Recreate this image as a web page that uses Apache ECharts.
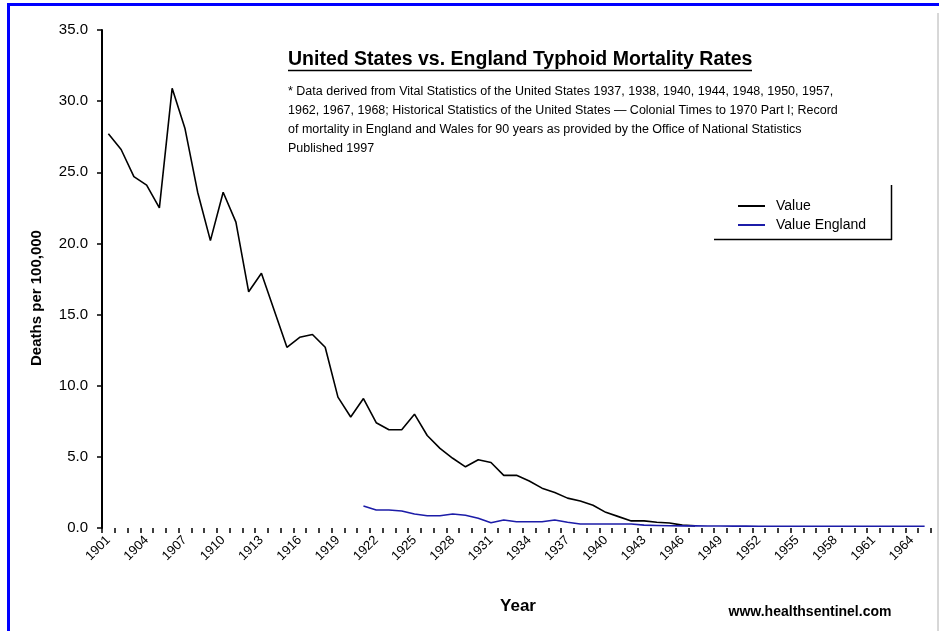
<!DOCTYPE html>
<html>
<head>
<meta charset="utf-8">
<script src="https://cdn.jsdelivr.net/npm/echarts@6/dist/echarts.min.js"></script>
<style>
  html, body { margin: 0; padding: 0; background: #fff; }
  #chart { width: 939px; height: 631px; }
</style>
</head>
<body>
<div id="chart"></div>
<script>
// years on the category axis
const years = []
for (let y = 1901; y <= 1965; y++) years.push(String(y))

// deaths per 100,000
const usRates = [
  27.7, 26.6, 24.7, 24.1, 22.5, 30.9, 28.1, 23.6, 20.2, 23.6,
  21.5, 16.6, 17.9, 15.3, 12.7, 13.4, 13.6, 12.7, 9.2, 7.8,
  9.1, 7.4, 6.9, 6.9, 8.0, 6.5, 5.6, 4.9, 4.3, 4.8,
  4.6, 3.7, 3.7, 3.3, 2.8, 2.5, 2.1, 1.9, 1.6, 1.1,
  0.8, 0.5, 0.5, 0.4, 0.35, 0.2, 0.15
]
const englandRates = [
  null, null, null, null, null, null, null, null, null, null,
  null, null, null, null, null, null, null, null, null, null,
  1.55, 1.27, 1.27, 1.2, 0.98, 0.86, 0.86, 0.98, 0.9, 0.68,
  0.37, 0.56, 0.44, 0.44, 0.44, 0.56, 0.4, 0.28, 0.28, 0.28,
  0.28, 0.28, 0.2, 0.18, 0.16, 0.15, 0.15, 0.14, 0.14, 0.13,
  0.13, 0.12, 0.12, 0.12, 0.12, 0.12, 0.12, 0.12, 0.12, 0.12,
  0.12, 0.12, 0.12, 0.12, 0.12
]

const noteLines = [
  '* Data derived from Vital Statistics of the United States 1937, 1938, 1940, 1944, 1948, 1950, 1957,',
  '1962, 1967, 1968; Historical Statistics of the United States — Colonial Times to 1970 Part I; Record',
  'of mortality in England and Wales for 90 years as provided by the Office of National Statistics',
  'Published 1997'
]

const FONT = 'Arial, "Liberation Sans", sans-serif'

const chart = echarts.init(document.getElementById('chart'))

const graphics = [
  // frame
  { type: 'rect', shape: { x: 7, y: 3, width: 932, height: 3 }, style: { fill: '#0000ff' } },
  { type: 'rect', shape: { x: 7, y: 3, width: 3, height: 628 }, style: { fill: '#0000ff' } },
  { type: 'line', shape: { x1: 938, y1: 13, x2: 938, y2: 631 }, style: { stroke: '#b0b0b0', lineWidth: 1 } },
  // title
  {
    type: 'text',
    style: { x: 288, y: 50, text: 'United States vs. England Typhoid Mortality Rates', font: 'bold 19.5px ' + FONT, fill: '#000' }
  },
  { type: 'line', shape: { x1: 288, y1: 70.5, x2: 752, y2: 70.5 }, style: { stroke: '#000', lineWidth: 1.5 } },
  // legend box edges
  { type: 'line', shape: { x1: 714, y1: 239.5, x2: 892, y2: 239.5 }, style: { stroke: '#000', lineWidth: 1.5 } },
  { type: 'line', shape: { x1: 891.5, y1: 185, x2: 891.5, y2: 240 }, style: { stroke: '#000', lineWidth: 1.5 } },
  // axis names + credit
  {
    type: 'text',
    rotation: Math.PI / 2,
    x: 37,
    y: 298,
    style: { x: 0, y: 0, text: 'Deaths per 100,000', font: 'bold 15px ' + FONT, fill: '#000', textAlign: 'center', textVerticalAlign: 'middle' }
  },
  {
    type: 'text',
    style: { x: 518, y: 606, text: 'Year', font: 'bold 17px ' + FONT, fill: '#000', textAlign: 'center', textVerticalAlign: 'middle' }
  },
  {
    type: 'text',
    style: { x: 810, y: 612, text: 'www.healthsentinel.com', font: 'bold 14px ' + FONT, fill: '#000', textAlign: 'center', textVerticalAlign: 'middle' }
  }
]
noteLines.forEach((t, i) => {
  graphics.push({
    type: 'text',
    style: { x: 288, y: 85 + i * 19, text: t, font: '12.5px ' + FONT, fill: '#000' }
  })
})

chart.setOption({
  animation: false,
  textStyle: { fontFamily: FONT },
  grid: { left: 102, right: 8, top: 30, bottom: 103 },
  legend: {
    orient: 'vertical',
    left: 733,
    top: 194,
    icon: 'rect',
    itemWidth: 27,
    itemHeight: 2,
    itemGap: 5,
    textStyle: { fontSize: 14, color: '#000', padding: [0, 0, 0, 6] },
    data: ['Value', 'Value England']
  },
  xAxis: {
    type: 'category',
    data: years,
    boundaryGap: true,
    axisLine: { show: false },
    axisTick: { show: true, interval: 0, length: 5, lineStyle: { color: '#000', width: 1.5 } },
    axisLabel: { interval: 2, rotate: 45, fontSize: 13, color: '#000', margin: 10 }
  },
  yAxis: {
    type: 'value',
    min: 0,
    max: 35,
    interval: 5,
    axisLine: { show: true, lineStyle: { color: '#000', width: 2 } },
    axisTick: { show: true, length: 5, lineStyle: { color: '#000', width: 1.5 } },
    splitLine: { show: false },
    axisLabel: { fontSize: 15, color: '#000', margin: 14, formatter: (v) => v.toFixed(1) }
  },
  series: [
    {
      name: 'Value',
      type: 'line',
      data: usRates,
      symbol: 'none',
      color: '#000',
      lineStyle: { color: '#000', width: 1.6 }
    },
    {
      name: 'Value England',
      type: 'line',
      data: englandRates,
      symbol: 'none',
      color: '#1c1ca8',
      lineStyle: { color: '#1c1ca8', width: 1.6 }
    }
  ],
  graphic: graphics
})
</script>
</body>
</html>
